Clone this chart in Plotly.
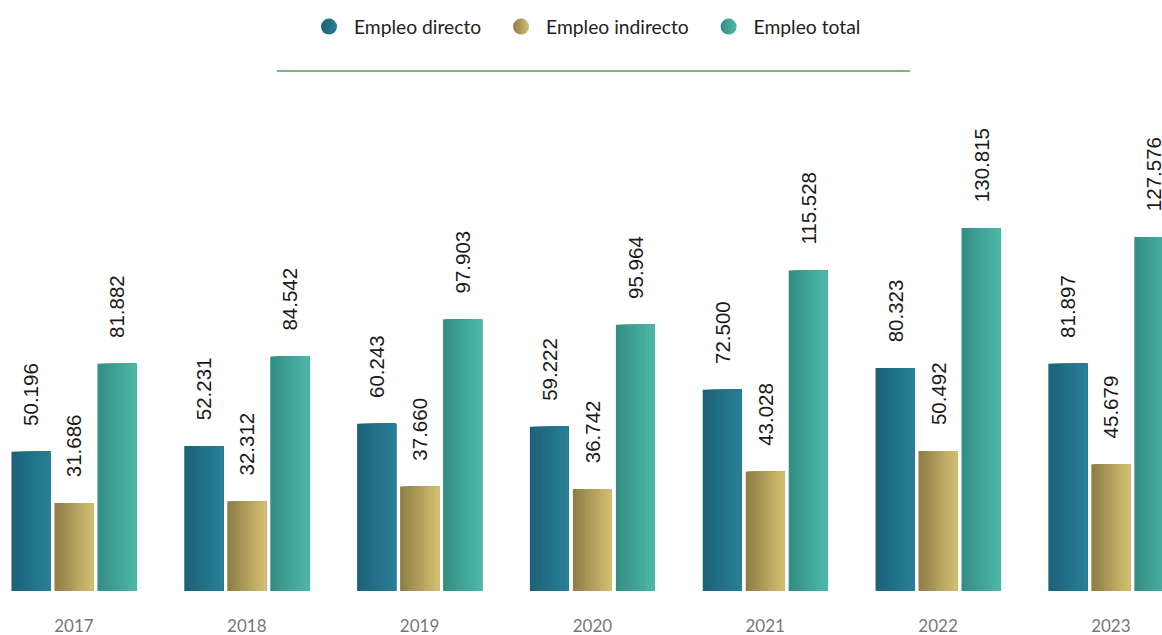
import plotly.graph_objects as go

# ---------------- data ----------------
years = ["2017", "2018", "2019", "2020", "2021", "2022", "2023"]
empleo_directo = [50196, 52231, 60243, 59222, 72500, 80323, 81897]
empleo_indirecto = [31686, 32312, 37660, 36742, 43028, 50492, 45679]
empleo_total = [81882, 84542, 97903, 95964, 115528, 130815, 127576]
series_names = ["Empleo directo", "Empleo indirecto", "Empleo total"]
series_values = [empleo_directo, empleo_indirecto, empleo_total]

# ---------------- style ----------------
grad_colors = [
    ("#1c6177", "#288097"),
    ("#8d7b45", "#d5c173"),
    ("#328d81", "#4eb9a9"),
]
N_SLICES = 13
PITCH = 0.2488
BAR_W = 0.2257
# invisible spacer placed before each value label (pushes the rotated label up)
LABEL_PAD = "<span style='color:rgba(0,0,0,0)'>00</span>"
NBSP = "\u00a0"


def hex2rgb(h):
    h = h.lstrip("#")
    return tuple(int(h[i:i + 2], 16) for i in (0, 2, 4))


def mix(c1, c2, t):
    a, b = hex2rgb(c1), hex2rgb(c2)
    return "rgb(%d,%d,%d)" % tuple(round(a[i] + (b[i] - a[i]) * t) for i in range(3))


def fmt(v):
    return f"{v:,}".replace(",", ".")


fig = go.Figure()

for s, (name, vals) in enumerate(zip(series_names, series_values)):
    c_left, c_right = grad_colors[s]
    left_edge = (s - 1) * PITCH - BAR_W / 2
    for k in range(N_SLICES):
        off = left_edge + k * BAR_W / N_SLICES
        wid = BAR_W - k * BAR_W / N_SLICES
        kw = {}
        if k == 0:
            kw = dict(
                text=[LABEL_PAD + fmt(v) for v in vals],
                textposition="outside",
                textangle=-90,
                textfont=dict(family="Liberation Sans, Arial", size=20.5, color="#1a1a1a"),
                cliponaxis=False,
                constraintext="none",
            )
        fig.add_trace(go.Bar(
            x=years, y=vals, name=name,
            offset=off, width=wid,
            marker=dict(color=mix(c_left, c_right, (k + 0.5) / N_SLICES), line=dict(width=0)),
            showlegend=False,
            hovertemplate="%{x}: %{y}<extra>" + name + "</extra>",
            **kw,
        ))

    # legend entry (circle marker with gradient)
    legend_label = NBSP + name + (NBSP * 3 if s < 2 else "")
    fig.add_trace(go.Scatter(
        x=[None], y=[None], mode="markers", name=legend_label,
        marker=dict(symbol="circle", size=16, color=c_left,
                    gradient=dict(type="horizontal", color=c_right)),
        showlegend=True,
    ))

fig.update_layout(
    width=1162, height=635,
    margin=dict(l=0, r=0, t=100, b=44, autoexpand=False),
    paper_bgcolor="white", plot_bgcolor="white",
    barmode="overlay",
    showlegend=True,
    legend=dict(
        orientation="h", x=309 / 1162, xanchor="left", y=1.1487, yanchor="middle",
        font=dict(family="Lato, sans-serif", size=19.3, color="#222222"),
    ),
    xaxis=dict(
        type="category", range=[-0.428, 6.296], automargin=False,
        showgrid=False, showline=False, zeroline=False,
        ticks="outside", ticklen=20, tickcolor="rgba(0,0,0,0)",
        tickfont=dict(family="Lato, sans-serif", size=17, color="#777777"),
        fixedrange=True,
    ),
    yaxis=dict(visible=False, range=[0, 176937], fixedrange=True, automargin=False),
    shapes=[dict(
        type="line", xref="paper", yref="paper",
        x0=277 / 1162, x1=910 / 1162, y0=1.0591, y1=1.0591,
        line=dict(color="#7cb87c", width=2),
    )],
)

fig.write_html("out.html")
